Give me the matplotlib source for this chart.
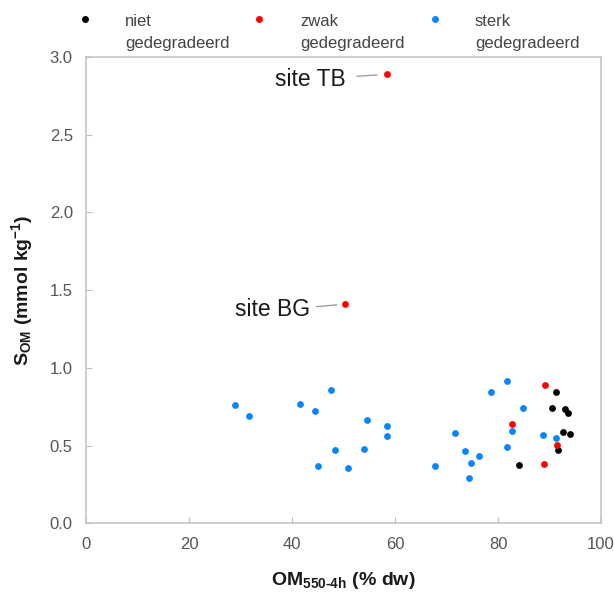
import matplotlib
matplotlib.use("Agg")
import matplotlib.pyplot as plt
from matplotlib.lines import Line2D

plt.rcParams['font.family'] = ['Liberation Sans', 'DejaVu Sans']
plt.rcParams['mathtext.fontset'] = 'custom'
plt.rcParams['mathtext.rm'] = 'Liberation Sans:bold'
plt.rcParams['mathtext.bf'] = 'Liberation Sans:bold'
plt.rcParams['mathtext.it'] = 'Liberation Sans:bold'
plt.rcParams['mathtext.default'] = 'rm'

# ---- data ----
labels = ["niet\ngedegradeerd", "zwak\ngedegradeerd", "sterk\ngedegradeerd"]
colors = ["#000000", "#ff0000", "#0a84ff"]

niet_x = [91.3, 90.4, 93.0, 93.5, 92.7, 94.0, 91.6, 84.0]
niet_y = [0.845, 0.740, 0.734, 0.708, 0.586, 0.575, 0.474, 0.373]

zwak_x = [58.4, 50.2, 89.2, 82.7, 91.5, 88.9]
zwak_y = [2.889, 1.409, 0.890, 0.637, 0.502, 0.384]

sterk_x = [28.9, 31.7, 41.6, 44.4, 47.6, 54.6, 58.4, 58.4, 48.3, 53.9, 45.0, 50.9,
           81.7, 78.6, 84.9, 71.6, 82.8, 88.7, 91.3, 73.5, 81.7, 76.3, 74.8, 67.8, 74.4]
sterk_y = [0.761, 0.689, 0.766, 0.723, 0.858, 0.667, 0.628, 0.564, 0.470, 0.476, 0.369, 0.358,
           0.914, 0.847, 0.740, 0.583, 0.596, 0.570, 0.551, 0.467, 0.491, 0.435, 0.388, 0.369, 0.290]

site_names = ["site TB", "site BG"]
site_x = [58.4, 50.2]
site_y = [2.889, 1.409]

x_ticks = [0, 20, 40, 60, 80, 100]
y_ticks = [0.0, 0.5, 1.0, 1.5, 2.0, 2.5, 3.0]

# ---- figure ----
fig = plt.figure(figsize=(6.14, 5.92), dpi=100)
ax = fig.add_axes([86/614, 1-523.3/592, 515/614, 466.3/592])

series = [(niet_x, niet_y), (zwak_x, zwak_y), (sterk_x, sterk_y)]
for (xs, ys), c in zip(series, colors):
    ax.scatter(xs, ys, s=24, color=c, linewidths=0, zorder=3)

ax.set_xlim(0, 100)
ax.set_ylim(0, 3.0)
ax.set_xticks(x_ticks)
ax.set_xticklabels([str(v) for v in x_ticks])
ax.set_yticks(y_ticks)
ax.set_yticklabels([f"{v:.1f}" for v in y_ticks])

spine_col = "#c0c0c0"
for s in ax.spines.values():
    s.set_color(spine_col)
    s.set_linewidth(1.1)
ax.tick_params(axis='both', direction='in', length=4, width=0.8, color=spine_col,
               labelsize=12, labelcolor="#555555")
ax.tick_params(axis='x', pad=10)
ax.tick_params(axis='y', pad=9.5)

ax.set_xlabel(r"OM$_{550\text{-}4h}$ (% dw)", fontsize=14, fontweight='bold', color="#1a1a1a")
ax.set_ylabel(r"S$_{OM}$ (mmol kg$^{-1}$)", fontsize=14, fontweight='bold', color="#1a1a1a")
ax.xaxis.set_label_coords(0.5, -0.100)
ax.yaxis.set_label_coords(-0.099, 0.5)

# annotations
offsets = [(-29.5, -4.0), (-24.7, -4.0)]
shrinks = [(6, 7), (2.5, 5.5)]
for name, x, y, off, sh in zip(site_names, site_x, site_y, offsets, shrinks):
    ax.annotate(name, xy=(x, y), xytext=off, textcoords='offset points',
                ha='right', va='center', fontsize=16.5, color="#1a1a1a",
                arrowprops=dict(arrowstyle='-', color="#a0a0a0", lw=1.0,
                                relpos=(1, 0.62), shrinkA=sh[0], shrinkB=sh[1]))

# legend (manual, figure coords)
leg_marker_px = [85, 259, 435]
leg_text_px = [125, 300, 475]
for lab, c, mx, tx in zip(labels, colors, leg_marker_px, leg_text_px):
    fig.add_artist(Line2D([mx/614], [1-18.5/592], marker='o', markersize=5.0,
                          color=c, markeredgewidth=0, linestyle='none',
                          transform=fig.transFigure))
    fig.text(tx/614, 1-32.5/592, lab, ha='left', va='center', fontsize=12,
             color="#444444", linespacing=1.55)

fig.savefig("out.png", dpi=100)
